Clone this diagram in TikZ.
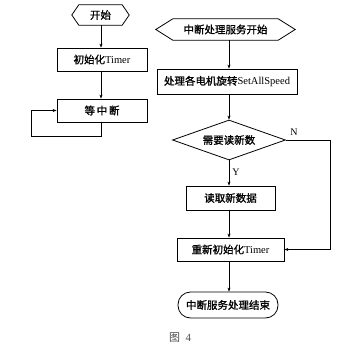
\documentclass[tikz,border=0pt]{standalone}
\usepackage{fontspec}
\setmainfont{Liberation Serif}
\newfontfamily\cjk{Noto Sans CJK SC}[AutoFakeBold=1.2]
\usetikzlibrary{arrows.meta,shapes.geometric,calc}
\begin{document}
\begin{tikzpicture}[x=1pt,y=-1pt, font=\fontsize{10.5}{12}\selectfont,
  box/.style={draw, line width=0.8pt, minimum height=23pt, inner sep=0pt},
  hexbody/.style={inner sep=0pt},
  hexline/.style={line width=0.8pt},
  flow/.style={-{Stealth[length=4pt,width=3pt]}, line width=0.6pt},
  lab/.style={font=\fontsize{10}{12}\selectfont, inner sep=0pt}]
\useasboundingbox (0,0) rectangle (349,354);
\newcommand\zh[1]{{\cjk\bfseries #1}}
% left column
\node[hexbody, minimum width=43pt, minimum height=20pt] (start) at (100.5,15) {\zh{开始}};
\draw[hexline] ([xshift=-7pt]start.west) -- (start.north west) -- (start.north east) -- ([xshift=7pt]start.east) -- (start.south east) -- (start.south west) -- cycle;
\node[box, minimum width=90pt] (init) at (102,59.5) {\zh{初始化}Timer};
\node[box, minimum width=90pt] (wait) at (102,110.5) {\zh{等\,中\,断}};
\coordinate (laxis) at (101,0);
\coordinate (loopc) at (31,136);
\draw[flow] (laxis |- start.south) -- (laxis |- init.north);
\draw[flow] (laxis |- init.south) -- (laxis |- wait.north);
\draw[flow] (laxis |- wait.south) |- (loopc) |- (wait.west);
% right column
\coordinate (axis) at (229,0);
\node[hexbody, minimum width=105pt, minimum height=21pt] (isr) at (225.5,29.5) {\zh{中断处理服务开始}};
\draw[hexline] ([xshift=-17pt]isr.west) -- (isr.north west) -- (isr.north east) -- ([xshift=17pt]isr.east) -- (isr.south east) -- (isr.south west) -- cycle;
\node[box, minimum width=140pt, minimum height=25pt] (proc) at (227,81.5) {\zh{处理各电机旋转}SetAllSpeed};
\node[diamond, draw, line width=0.8pt, aspect=2.8, minimum width=113pt, minimum height=40pt, inner sep=0pt] (dec) at (229,140) {\zh{需要读新数}};
\node[box, minimum width=89pt, minimum height=24pt] (read) at (230.5,198) {\zh{读取新数据}};
\node[box, minimum width=107pt, minimum height=23pt] (reinit) at (230.5,249.5) {\zh{重新初始化}Timer};
\node[draw, line width=0.8pt, rounded corners=12.5pt, minimum width=100pt, minimum height=26pt, inner sep=0pt] (finish) at (228,305) {\zh{中断服务处理结束}};
\draw[flow] (axis |- isr.south) -- (axis |- proc.north);
\draw[flow] (axis |- proc.south) -- (dec.north);
\draw[flow] (dec.south) -- (axis |- read.north);
\draw[flow] (axis |- read.south) -- (axis |- reinit.north);
\draw[flow] (axis |- reinit.south) -- (axis |- finish.north);
\coordinate (ncorner) at (330,140);
\draw[flow] (dec.east) -- (ncorner) |- (reinit.east);
\node[lab] (nlab) at (294,132) {N};
\node[lab] (ylab) at (236,172) {Y};
\node[lab, text=black!70, font=\fontsize{11}{13}\selectfont] (fig) at (180,338) {{\cjk 图}\ \ 4};
\end{tikzpicture}
\end{document}
